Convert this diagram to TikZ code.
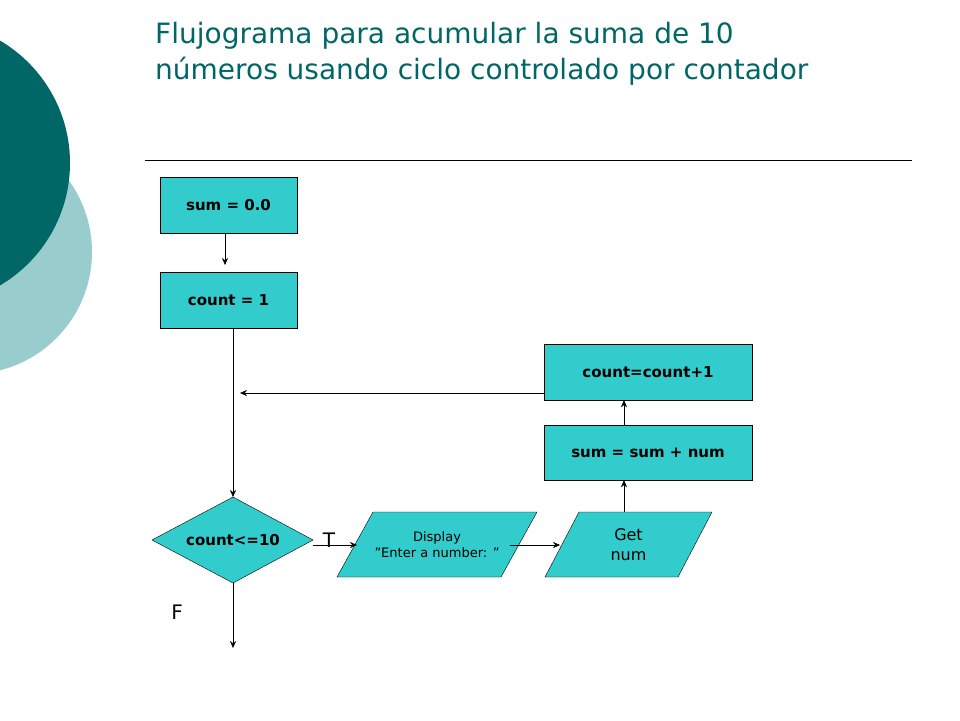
\documentclass[tikz,border=0pt]{standalone}
\usepackage{fontspec}
\setmainfont{DejaVu Sans}
\usetikzlibrary{shapes.geometric, arrows.meta}
\definecolor{teal1}{RGB}{0,102,102}
\definecolor{tealfill}{RGB}{51,204,204}
\definecolor{lightteal}{RGB}{153,204,204}
\tikzset{
  procbox/.style={draw, fill=tealfill, font=\bfseries\fontsize{15}{18}\selectfont, inner sep=0pt},
  iotext/.style={align=center, inner sep=0pt},
  ioshape/.style={draw, fill=tealfill},
  flow/.style={-{Stealth[length=7pt,width=6pt]}}
}
\begin{document}
\begin{tikzpicture}[x=1pt, y=-1pt]
        \useasboundingbox (0,0) rectangle (960,720);
        \clip (0,0) rectangle (960,720);
        \fill[lightteal] (-30,252) circle (122);
        \fill[teal1] (-72,163) circle (142);
        \node[anchor=north west, align=left, text=teal1, font=\fontsize{28}{36}\selectfont, inner sep=0pt] (title) at (155,22)
          {Flujograma para acumular la suma de 10\\números usando ciclo controlado por contador};
        \draw (145,160) -- (912,160);

        \node[procbox, minimum width=137, minimum height=56] (sum0) at (228.5,205) {sum = 0.0};
        \node[procbox, minimum width=137, minimum height=56] (count1) at (228.5,300) {count = 1};
        % decision
        \filldraw[ioshape] (152,540) -- (233,497) -- (313,540) -- (233,583) -- cycle;
        \node[font=\bfseries\fontsize{15}{18}\selectfont, inner sep=0pt] (test) at (233,540) {count<=10};
        \coordinate (testtop) at (233,497);
        \coordinate (testbot) at (233,583);
        % parallelograms
        \filldraw[ioshape] (337,577) -- (373,512) -- (537,512) -- (501,577) -- cycle;
        \node[iotext, font=\fontsize{13}{16}\selectfont] (disp) at (437,544.5) {Display\\”Enter a number: ”};
        \filldraw[ioshape] (545,577) -- (579,512) -- (712,512) -- (678,577) -- cycle;
        \node[iotext, font=\fontsize{16}{20}\selectfont] (getnum) at (628.5,544.5) {Get\\num};
        \node[procbox, minimum width=208, minimum height=55] (sumadd) at (648,452.5) {sum = sum + num};
        \node[procbox, minimum width=208, minimum height=56] (countinc) at (648,372) {count=count+1};
        \coordinate (loop) at (240,393);
        \coordinate (exit) at (233,648);
        \coordinate (getnumtop) at (624,512);
        \node[font=\fontsize{20}{24}\selectfont] (T) at (329,540) {T};
        \node[font=\fontsize{20}{24}\selectfont] (F) at (177,612) {F};

        \draw[flow] (sum0.south -| 225,0) -- (225,265);
        \draw[flow] (count1.south -| testtop) -- (testtop);
        \draw[flow] (313,545) -- (357,545);
        \draw[flow] (510,545) -- (560,545);
        \draw[flow] (getnumtop) -- (sumadd.south -| getnumtop);
        \draw[flow] (sumadd.north -| getnumtop) -- (countinc.south -| getnumtop);
        \draw[flow] (countinc.west |- loop) -- (loop);
        \draw[flow] (testbot) -- (exit);
\end{tikzpicture}
\end{document}
